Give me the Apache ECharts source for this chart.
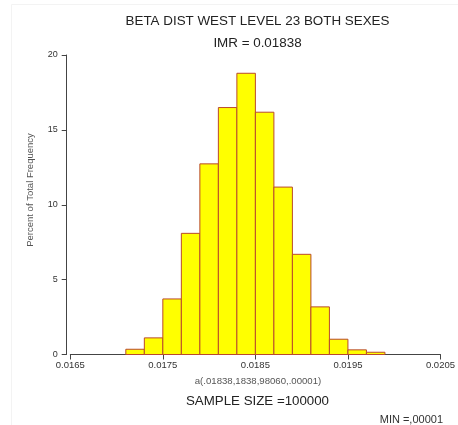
<!DOCTYPE html>
<html><head><meta charset="utf-8">
<script src="https://cdn.jsdelivr.net/npm/echarts@6/dist/echarts.min.js"></script>
<style>html,body{margin:0;padding:0;background:#fff}#c{width:458px;height:425px}</style>
</head><body><div id="c"></div>
<script>
const binStart = [0.0171,0.0173,0.0175,0.0177,0.0179,0.0181,0.0183,0.0185,0.0187,0.0189,0.0191,0.0193,0.0195,0.0197];
const binEnd   = [0.0173,0.0175,0.0177,0.0179,0.0181,0.0183,0.0185,0.0187,0.0189,0.0191,0.0193,0.0195,0.0197,0.0199];
const percent  = [0.35,1.11,3.71,8.09,12.73,16.49,18.78,16.18,11.18,6.69,3.18,1.02,0.31,0.15];
const yTicks = [0,5,10,15,20];
const title1 = 'BETA DIST WEST LEVEL 23 BOTH SEXES';
const title2 = 'IMR = 0.01838';
const xName = 'a(.01838,1838,98060,.00001)';
const yName = 'Percent of Total Frequency';
const footer1 = 'SAMPLE SIZE =100000';
const footer2 = 'MIN =,00001';

const chart = echarts.init(document.getElementById('c'), null, {renderer:'canvas'});
const data = binStart.map((s,i)=>[s, binEnd[i], percent[i]]);
const font = 'Arial, "Liberation Sans", sans-serif';
chart.setOption({
  animation:false,
  backgroundColor:'#fff',
  grid:{left:70.3, right:11.7, top:55, bottom:70.5, containLabel:false},
  xAxis:{type:'value', min:0.0165, max:0.0205, interval:0.001,
    axisLine:{show:true, lineStyle:{color:'#444', width:1}},
    axisTick:{show:true, length:5, lineStyle:{color:'#444'}},
    axisLabel:{color:'#333', fontSize:9.5, fontFamily:font, margin:6, formatter:v=>v.toFixed(4), showMinLabel:true, showMaxLabel:true},
    splitLine:{show:false}},
  yAxis:{type:'value', min:yTicks[0], max:yTicks[yTicks.length-1], interval:5, offset:3.6,
    axisLine:{show:true, lineStyle:{color:'#444', width:1}},
    axisTick:{show:true, length:5, lineStyle:{color:'#444'}},
    axisLabel:{color:'#333', fontSize:9, fontFamily:font, margin:9},
    splitLine:{show:false}},
  series:[{type:'custom', data:data, encode:{x:[0,1], y:2},
    renderItem:(params, api)=>{
      const p0 = api.coord([api.value(0), 0]);
      const p1 = api.coord([api.value(1), api.value(2)]);
      return {type:'rect', shape:{x:p0[0], y:p1[1], width:p1[0]-p0[0], height:p0[1]-p1[1]},
        style:{fill:'#ffff00', stroke:'#b94a2c', lineWidth:1}};
    }}],
  graphic:[
    {type:'rect', shape:{x:11.5, y:4.5, width:460, height:430}, style:{fill:'none', stroke:'#f3f3f3', lineWidth:1}, silent:true},
    {type:'text', x:257.5, y:21, style:{text:title1, fontSize:13.4, fontFamily:font, fill:'#222', textAlign:'center', textVerticalAlign:'middle'}},
    {type:'text', x:257.5, y:43, style:{text:title2, fontSize:13.4, fontFamily:font, fill:'#222', textAlign:'center', textVerticalAlign:'middle'}},
    {type:'text', x:258, y:381.5, style:{text:xName, fontSize:9.6, fontFamily:font, fill:'#555', textAlign:'center', textVerticalAlign:'middle'}},
    {type:'text', x:257.5, y:401, style:{text:footer1, fontSize:13.3, fontFamily:font, fill:'#222', textAlign:'center', textVerticalAlign:'middle'}},
    {type:'text', x:443, y:420, style:{text:footer2, fontSize:11, fontFamily:font, fill:'#333', textAlign:'right', textVerticalAlign:'middle'}},
    {type:'text', x:30, y:190, rotation:Math.PI/2, style:{text:yName, fontSize:9.5, fontFamily:font, fill:'#555', textAlign:'center', textVerticalAlign:'middle'}}
  ]
});
</script></body></html>
